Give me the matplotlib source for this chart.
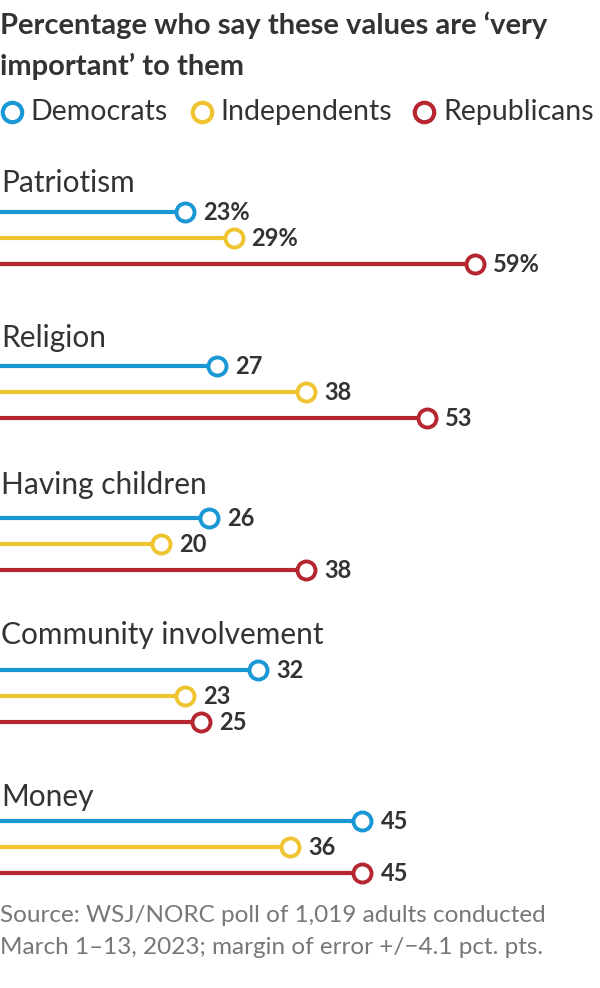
import matplotlib.pyplot as plt

categories = ["Patriotism", "Religion", "Having children", "Community involvement", "Money"]
parties = ["Democrats", "Independents", "Republicans"]
democrats = [23, 27, 26, 32, 45]
independents = [29, 38, 20, 23, 36]
republicans = [59, 53, 38, 25, 45]

colors = ["#1a98d5", "#f0c330", "#b5262e"]
TEXT = "#333333"
GRAY = "#777777"

plt.rcParams['font.family'] = ['Lato', 'DejaVu Sans']

fig = plt.figure(figsize=(6, 9.88), dpi=100)
ax = fig.add_axes([0, 0, 1, 1])
ax.set_xlim(0, 74.5)
ax.set_ylim(988, 0)
ax.axis("off")

# title
fig.text(0.0, 1 - 12 / 988, "Percentage who say these values are \u2018very\nimportant\u2019 to them",
         fontsize=21, fontweight="bold", color=TEXT, va="top", ha="left", linespacing=1.62)

# legend, drawn by hand
leg_y = 112
leg_x = [1.5, 25.1, 52.7]
for x, name, c in zip(leg_x, parties, colors):
    ax.plot([x], [leg_y], marker="o", ms=14, mfc="white", mec=c, mew=3, clip_on=False)
    ax.text(x + 2.3, leg_y, name, fontsize=20.5, color=TEXT, va="center", ha="left")

label_y = [183, 338, 485, 635, 797]
line_y = [[212, 238, 264], [366, 392, 418], [518, 544, 570], [670, 696, 722], [821, 847, 873]]
series = [democrats, independents, republicans]

for i, cat in enumerate(categories):
    ax.text(0.1, label_y[i], cat, fontsize=21.5, color=TEXT, va="center", ha="left")
    for j, vals in enumerate(series):
        v = vals[i]
        y = line_y[i][j]
        ax.plot([0, v], [y, y], color=colors[j], lw=3, solid_capstyle="butt", zorder=2)
        ax.plot([v], [y], marker="o", ms=13, mfc="white", mec=colors[j], mew=2.8, zorder=3)
        lab = f"{v}%" if i == 0 else f"{v}"
        ax.annotate(lab, (v, y), xytext=(13, 0), textcoords="offset points",
                    fontsize=17, fontweight="bold", color=TEXT, va="center", ha="left")

fig.text(0.0, 1 - 905 / 988, "Source: WSJ/NORC poll of 1,019 adults conducted\nMarch 1\u201313, 2023; margin of error +/\u22124.1 pct. pts.",
         fontsize=17.5, color=GRAY, va="top", ha="left", linespacing=1.62)

fig.savefig("out.png", dpi=100, facecolor="white")
